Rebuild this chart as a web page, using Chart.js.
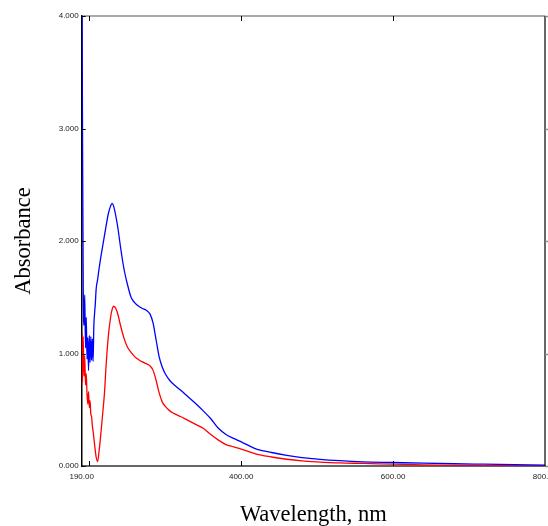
<!DOCTYPE html>
<html>
<head>
<meta charset="utf-8">
<script src="https://cdn.jsdelivr.net/npm/chart.js@4.4.0/dist/chart.umd.min.js"></script>
<style>
  html, body { margin: 0; padding: 0; background: #fff; }
  #wrap { width: 548px; height: 526px; }
</style>
</head>
<body>
<div id="wrap"><canvas id="spectrum"></canvas></div>
<script>
// wavelength grid (nm), shared by both spectra
const wavelengths = [190, 190.5, 191, 192, 193, 194, 195, 196, 197, 198, 199, 200, 201, 202, 203, 204, 205, 206, 207, 208, 209,
  211, 213, 215, 217, 220, 222, 225, 228, 230, 232, 235, 238, 240, 243, 246, 250, 255, 260, 265, 270, 275, 280, 284, 288,
  292, 296, 300, 306, 312, 320, 330, 340, 350, 360, 370, 380, 390, 400, 420, 440, 460, 480, 500, 530, 560, 600, 640,
  680, 720, 760, 800];

// absorbance
const blueAbs = [4.0, 4.0, 3.1, 1.6, 1.25, 1.52, 1.05, 1.32, 0.95, 1.14, 0.85, 1.16, 0.92, 1.15, 0.94, 1.13, 0.93, 1.25, 1.36, 1.45, 1.57,
  1.66, 1.76, 1.85, 1.93, 2.05, 2.13, 2.24, 2.31, 2.335, 2.31, 2.22, 2.10, 2.00, 1.86, 1.74, 1.62, 1.50, 1.45, 1.42, 1.40, 1.385, 1.35, 1.27, 1.12,
  0.97, 0.88, 0.82, 0.76, 0.72, 0.675, 0.615, 0.555, 0.49, 0.42, 0.335, 0.28, 0.245, 0.215, 0.15, 0.12, 0.095, 0.075, 0.062, 0.047, 0.037, 0.031, 0.025,
  0.02, 0.016, 0.012, 0.008];

const redAbs = [0.72, 1.18, 0.75, 1.15, 0.80, 0.98, 0.72, 0.82, 0.64, 0.55, 0.66, 0.52, 0.58, 0.46, 0.44, 0.36, 0.31, 0.25, 0.19, 0.13, 0.08,
  0.04, 0.14, 0.27, 0.42, 0.65, 0.88, 1.15, 1.32, 1.39, 1.42, 1.40, 1.34, 1.28, 1.20, 1.13, 1.06, 1.01, 0.97, 0.945, 0.925, 0.91, 0.89, 0.85, 0.76,
  0.65, 0.57, 0.53, 0.49, 0.465, 0.44, 0.405, 0.37, 0.335, 0.28, 0.23, 0.19, 0.17, 0.15, 0.105, 0.08, 0.06, 0.046, 0.037, 0.027, 0.023, 0.016, 0.01,
  0.006, 0.003, 0.002, 0.001];

const xTicks = [190, 200, 400, 600, 800];
const xTickMarks = [200, 400, 600];
const yTicks = [0, 1, 2, 3, 4];

const toPoints = vals => wavelengths.map((w, i) => ({ x: w, y: vals[i] }));

// frame on top/right plus the little tick marks
const framePlugin = {
  id: 'frame',
  afterDatasetsDraw(chart) {
    const { ctx, chartArea: a, scales } = chart;
    ctx.save();
    ctx.lineWidth = 1.2;
    ctx.strokeStyle = '#555';
    ctx.beginPath();
    ctx.moveTo(a.left, a.top); ctx.lineTo(a.right, a.top);
    ctx.stroke();
    ctx.strokeStyle = '#000';
    ctx.beginPath();
    ctx.moveTo(a.right, a.top); ctx.lineTo(a.right, a.bottom);
    ctx.stroke();

    ctx.lineWidth = 1;
    ctx.strokeStyle = '#000';
    ctx.beginPath();
    xTickMarks.forEach(v => {
      const px = Math.round(scales.x.getPixelForValue(v)) + 0.5;
      ctx.moveTo(px, a.bottom); ctx.lineTo(px, a.bottom - 5);
      ctx.moveTo(px, a.top); ctx.lineTo(px, a.top + 5);
    });
    yTicks.forEach(v => {
      const py = Math.round(scales.y.getPixelForValue(v)) + 0.5;
      ctx.moveTo(a.left, py); ctx.lineTo(a.left + 4, py);
    });
    ctx.stroke();
    ctx.strokeStyle = '#888';
    ctx.lineWidth = 1.5;
    ctx.beginPath();
    yTicks.forEach(v => {
      const py = Math.round(scales.y.getPixelForValue(v)) + 0.5;
      ctx.moveTo(a.right, py); ctx.lineTo(a.right + 5, py);
    });
    ctx.stroke();
    ctx.restore();
  }
};

new Chart(document.getElementById('spectrum'), {
  type: 'line',
  data: {
    datasets: [
      {
        label: 'blue',
        data: toPoints(blueAbs),
        borderColor: '#0000ff',
        borderWidth: 1.3,
        pointRadius: 0,
        cubicInterpolationMode: 'monotone',
        fill: false
      },
      {
        label: 'red',
        data: toPoints(redAbs),
        borderColor: '#ff0000',
        borderWidth: 1.3,
        pointRadius: 0,
        cubicInterpolationMode: 'monotone',
        fill: false
      }
    ]
  },
  options: {
    responsive: true,
    maintainAspectRatio: false,
    animation: false,
    layout: { padding: { top: 16, right: 3, bottom: 0, left: 0 } },
    plugins: {
      legend: { display: false },
      tooltip: { enabled: false }
    },
    scales: {
      x: {
        type: 'linear',
        min: 190,
        max: 800,
        afterBuildTicks: scale => { scale.ticks = xTicks.map(v => ({ value: v })); },
        afterFit: scale => { scale.height = 60; scale.paddingLeft = 0; scale.paddingRight = 0; },
        grid: { display: false, drawTicks: false },
        border: { display: true, color: '#666', width: 2 },
        ticks: {
          autoSkip: false,
          maxRotation: 0,
          padding: 6,
          color: '#222',
          font: { family: 'Liberation Sans', size: 8 },
          callback: v => (v === 200 ? '' : v.toFixed(2))
        },
        title: {
          display: true,
          text: 'Wavelength, nm',
          color: '#000',
          padding: { top: 0, bottom: 0 },
          font: { family: 'Liberation Serif', size: 22.5, lineHeight: 1 }
        }
      },
      y: {
        min: 0,
        max: 4,
        afterBuildTicks: scale => { scale.ticks = yTicks.map(v => ({ value: v })); },
        afterFit: scale => { scale.width = 81.7; scale.paddingTop = 0; scale.paddingBottom = 0; },
        grid: { display: false, drawTicks: false },
        border: { display: true, color: '#000', width: 1.5 },
        ticks: {
          padding: 3,
          color: '#222',
          font: { family: 'Liberation Sans', size: 8 },
          callback: v => v.toFixed(3)
        },
        title: {
          display: true,
          text: 'Absorbance',
          color: '#000',
          padding: { top: 12.5, bottom: 0 },
          font: { family: 'Liberation Serif', size: 22.5, lineHeight: 1 }
        }
      }
    }
  },
  plugins: [framePlugin]
});
</script>
</body>
</html>
